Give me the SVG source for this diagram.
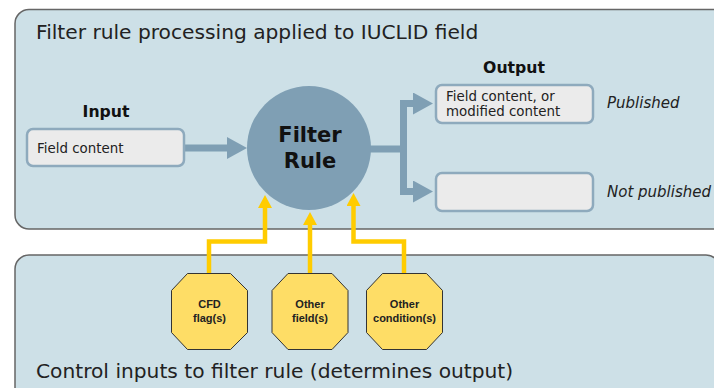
<svg xmlns="http://www.w3.org/2000/svg" width="714" height="388" viewBox="0 0 714 388">
<defs>
<style>
.panel{fill:#cde0e7;stroke:#666;stroke-width:1.5}
.box{fill:#ebebeb;stroke:#8eaabd;stroke-width:2.5}
.title{font-family:"DejaVu Sans",Verdana,sans-serif;font-size:20.2px;fill:#222}
.hdr{font-family:"DejaVu Sans",Verdana,sans-serif;font-size:15.7px;font-weight:bold;fill:#111;text-anchor:middle}
.lbl{font-family:"DejaVu Sans",Verdana,sans-serif;font-size:13.4px;fill:#222}
.ital{font-family:"DejaVu Sans",Verdana,sans-serif;font-size:15px;font-style:italic;fill:#222}
.circ{font-family:"DejaVu Sans",Verdana,sans-serif;font-size:21px;font-weight:bold;fill:#111;text-anchor:middle}
.oct{fill:#fedd66;stroke:#333;stroke-width:1}
.octt{font-family:"Liberation Sans",Arial,sans-serif;font-size:11px;font-weight:bold;fill:#222;text-anchor:middle}
.flow{fill:none;stroke:#7f9fb4;stroke-width:7}
.ctl{fill:none;stroke:#ffcc00;stroke-width:4.5}
</style>
<marker id="ah" markerUnits="userSpaceOnUse" markerWidth="20" markerHeight="22" refX="0" refY="11" orient="auto"><path d="M0,0 L20,11 L0,22 Z" fill="#7f9fb4"/></marker>
<marker id="yh" markerUnits="userSpaceOnUse" markerWidth="14" markerHeight="14" refX="0" refY="7" orient="auto"><path d="M0,0 L13,7 L0,14 Z" fill="#ffcc00"/></marker>
</defs>
<g id="panel-top"><rect class="panel" x="15" y="9.5" width="720" height="219.5" rx="14"/>
<text class="title" x="36" y="39">Filter rule processing applied to IUCLID field</text></g>
<g id="panel-bottom"><rect class="panel" x="15" y="255" width="705" height="160" rx="14"/>
<text class="title" x="36" y="378">Control inputs to filter rule (determines output)</text></g>
<g id="connectors">
<path class="flow" d="M184,148 H227" marker-end="url(#ah)"/>
<path class="flow" d="M370,149 H403.5 M403.5,100 V195"/>
<path class="flow" d="M400,103.5 H413" marker-end="url(#ah)"/>
<path class="flow" d="M400,191.5 H413" marker-end="url(#ah)"/>
<path class="ctl" d="M209,273 V241.5 H265 V208" marker-end="url(#yh)"/>
<path class="ctl" d="M310,273 V225" marker-end="url(#yh)"/>
<path class="ctl" d="M404,273 V241.5 H353.5 V206" marker-end="url(#yh)"/>
</g>
<g id="input"><text class="hdr" x="106" y="117">Input</text>
<rect class="box" x="27" y="129" width="157" height="37" rx="6"/>
<text class="lbl" x="37" y="153">Field content</text></g>
<g id="filter-rule"><circle cx="309" cy="148" r="62" fill="#7f9fb4"/>
<text class="circ" x="310" y="142">Filter</text><text class="circ" x="310" y="168">Rule</text></g>
<g id="output-published"><text class="hdr" x="514" y="73">Output</text>
<rect class="box" x="436" y="85" width="157" height="38" rx="6"/>
<text class="lbl" x="446" y="101">Field content, or</text><text class="lbl" x="446" y="116">modified content</text>
<text class="ital" x="607" y="108">Published</text></g>
<g id="output-not-published"><rect class="box" x="436" y="173" width="157" height="38" rx="6"/>
<text class="ital" x="607" y="197">Not published</text></g>
<g id="cfd"><polygon class="oct" points="187.5,273.5 230.5,273.5 247.5,290.5 247.5,332.5 230.5,349.5 187.5,349.5 171.5,332.5 171.5,290.5"/>
<text class="octt" x="209.5" y="308">CFD</text><text class="octt" x="209.5" y="322">flag(s)</text></g>
<g id="other-fields"><polygon class="oct" points="288,273.5 332,273.5 348,290.5 348,332.5 332,349.5 288,349.5 272,332.5 272,290.5"/>
<text class="octt" x="310" y="308">Other</text><text class="octt" x="310" y="322">field(s)</text></g>
<g id="other-conditions"><polygon class="oct" points="382.5,273.5 426.5,273.5 442.5,290.5 442.5,332.5 426.5,349.5 382.5,349.5 366.5,332.5 366.5,290.5"/>
<text class="octt" x="404.5" y="308">Other</text><text class="octt" x="404.5" y="322">condition(s)</text></g>
</svg>
